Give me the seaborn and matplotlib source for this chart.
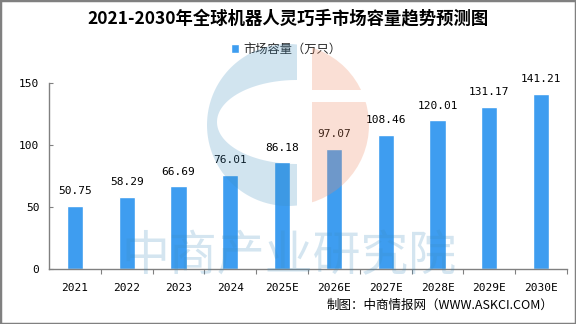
import numpy as np
import pandas as pd
import seaborn as sns
import matplotlib
matplotlib.use("Agg")
import matplotlib.pyplot as plt
from matplotlib.patches import Polygon, Circle, Rectangle

# ---- data ----
years = ["2021", "2022", "2023", "2024", "2025E", "2026E", "2027E", "2028E", "2029E", "2030E"]
capacity = [50.75, 58.29, 66.69, 76.01, 86.18, 97.07, 108.46, 120.01, 131.17, 141.21]
series_name = "市场容量（万只）"
title_text = "2021-2030年全球机器人灵巧手市场容量趋势预测图"
source_text = "制图：中商情报网（WWW.ASKCI.COM）"
watermark_text = "中商产业研究院"
y_ticks = [0, 50, 100, 150]

df = pd.DataFrame({"year": years, "capacity": capacity})

sns.set_theme(style="white")
plt.rcParams["font.family"] = ["DejaVu Sans Mono", "Noto Sans CJK SC"]
CJK = ["Noto Sans CJK SC", "DejaVu Sans"]

W, H = 576, 324
fig = plt.figure(figsize=(W / 100, H / 100), dpi=100)
fig.patch.set_facecolor("white")

# main axes, placed in pixel terms
left, right, bottom_px, top_px = 49, 567, 269, 83.3
ax = fig.add_axes([left / W, 1 - bottom_px / H, (right - left) / W, (bottom_px - top_px) / H])

bar_color = "#3E9DF0"
sns.barplot(data=df, x="year", y="capacity", color=bar_color, saturation=1,
            width=0.31, label=series_name, ax=ax)

ax.bar_label(ax.containers[0], fmt="%.2f", padding=7, fontsize=8,
             color="black", clip_on=False)

ax.set_ylim(0, 150)
ax.set_xlim(-0.5, len(years) - 0.5)
ax.set_yticks(y_ticks)
ax.set_xlabel("")
ax.set_ylabel("")

grey = "#808080"
for s in ["top", "right"]:
    ax.spines[s].set_visible(False)
for s in ["left", "bottom"]:
    ax.spines[s].set_color(grey)
    ax.spines[s].set_linewidth(1.0)

ax.tick_params(axis="y", direction="in", length=3, width=0.8, color=grey,
               pad=7, labelsize=8, labelcolor="black", left=True)
ax.tick_params(axis="x", which="major", length=0, pad=10, labelsize=8,
               labelcolor="black")
ax.set_xticks(np.arange(0.5, len(years), 1.0), minor=True)
ax.tick_params(axis="x", which="minor", direction="out", length=3.5, width=0.8,
               color=grey, bottom=True)
ax.grid(False)

# legend above the plot
leg = ax.legend(loc="center", bbox_to_anchor=(286 / W, 1 - 49 / H),
                bbox_transform=fig.transFigure, frameon=False,
                handlelength=0.7, handleheight=0.7, handletextpad=0.35,
                prop={"family": CJK, "size": 8.8})

# title and source line
fig.text(288 / W, 1 - 18 / H, title_text, ha="center", va="center",
         fontsize=12.5, fontweight="bold", family=CJK, color="black")
fig.text(553 / W, 1 - 305 / H, source_text, ha="right", va="center",
         fontsize=9, family=CJK, color="black")

# translucent logo and name drawn over the chart
ov = fig.add_axes([0, 0, 1, 1], zorder=10)
ov.set_xlim(0, W)
ov.set_ylim(H, 0)
ov.axis("off")
ov.patch.set_alpha(0)

cx, cy, r = 288, 125, 81
xb = 297
h = np.sqrt(r ** 2 - (xb - cx) ** 2)
t0 = np.arctan2(-h, xb - cx)
t1 = t0 - (2 * np.pi - 2 * abs(t0))
t = np.linspace(t0, t1, 120)
outer = np.column_stack([cx + r * np.cos(t), cy + r * np.sin(t)])
s = np.linspace(np.pi / 2, 3 * np.pi / 2, 80)
inner = np.column_stack([xb + 80 * np.cos(s), 122 + 42 * np.sin(s)])
blue_wm = (60 / 255, 140 / 255, 190 / 255)
ov.add_patch(Polygon(np.vstack([outer, inner]), closed=True, facecolor=blue_wm,
                     edgecolor="none", alpha=0.23))

orange_wm = (240 / 255, 140 / 255, 100 / 255)
for y0, y1 in [(0, 90), (102, 230)]:
    clip = Rectangle((312, y0), 100, y1 - y0, transform=ov.transData)
    c = Circle((cx, cy), r, facecolor=orange_wm, edgecolor="none", alpha=0.27)
    ov.add_patch(c)
    c.set_clip_path(clip)

ov.text(289, 256, watermark_text, ha="center", va="center", fontsize=34.5,
        family=CJK, color=blue_wm, alpha=0.22)

# thin grey frame around the whole image
fig.patches.append(Rectangle((0, 0), 1, 1, transform=fig.transFigure, fill=False,
                             edgecolor=grey, linewidth=2.5, zorder=20))

fig.savefig("out.png", dpi=100, facecolor="white")
